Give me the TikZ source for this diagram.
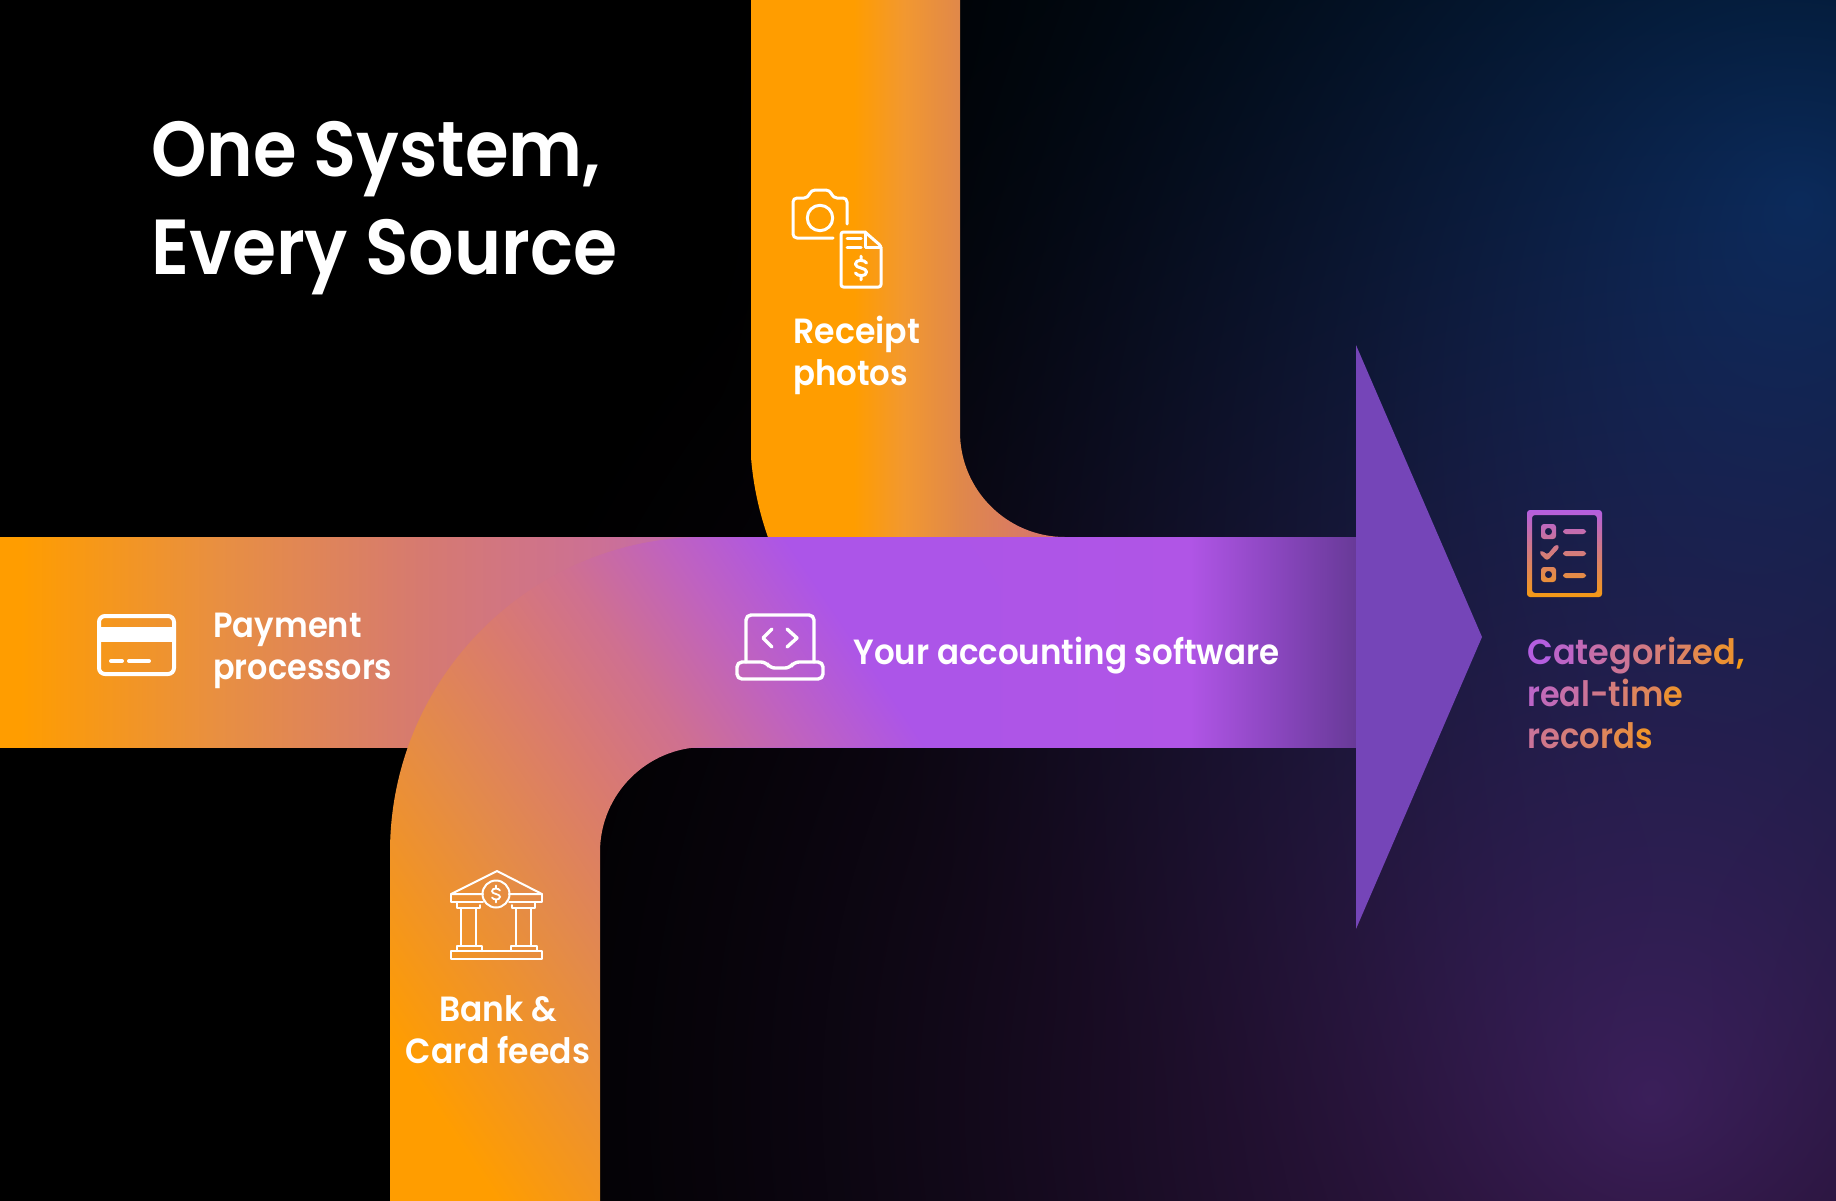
\documentclass[tikz,border=0pt]{standalone}
\usepackage{graphicx}
\usepackage{fontspec}
\setmainfont{Poppins}
\newfontfamily\psb{Poppins SemiBold}
\definecolor{orA}{HTML}{FF9D00}
\definecolor{orB}{HTML}{E88F42}
\definecolor{piA}{HTML}{D67A70}
\definecolor{piB}{HTML}{CC7095}
\definecolor{piC}{HTML}{C26AB0}
\definecolor{puA}{HTML}{AC55E8}
\definecolor{puB}{HTML}{B055E6}
\definecolor{puC}{HTML}{8444B8}
\definecolor{puD}{HTML}{683A98}
\definecolor{arrowc}{HTML}{7545B8}
\definecolor{arA}{HTML}{F29830}
\definecolor{arB}{HTML}{E0884A}
\definecolor{arC}{HTML}{D87868}
\definecolor{soA}{HTML}{E48B48}
\definecolor{soB}{HTML}{D97A70}
\definecolor{soC}{HTML}{CF7090}
\definecolor{soD}{HTML}{BF62C0}
\definecolor{gradA}{HTML}{B45EE0}
\definecolor{gradB}{HTML}{F59A14}
% horizontal band, stops in px/2
\pgfdeclarehorizontalshading{bandsh}{105pt}{color(0pt)=(orA); color(10pt)=(orA); color(110pt)=(orB); color(210pt)=(piA); color(300pt)=(piB); color(350pt)=(piC); color(445pt)=(puA); color(595pt)=(puB); color(645pt)=(puC); color(678pt)=(puD)}
\pgfdeclarehorizontalshading{topsh}{374pt}{color(0pt)=(orA); color(52pt)=(orA); color(77pt)=(arA); color(105pt)=(arB); color(140pt)=(arC); color(160pt)=(arC)}
\pgfdeclarehorizontalshading{botsh}{700pt}{color(0pt)=(orA); color(70pt)=(orA); color(169pt)=(soA); color(230pt)=(soB); color(275pt)=(soC); color(325pt)=(soD); color(375pt)=(puA); color(450pt)=(puA)}
\pgfdeclarefunctionalshading{bgsh}{\pgfpointorigin}{\pgfpoint{922pt}{604pt}}{}{
 2.0075 mul 1204 exch sub exch 2.0075 mul 4 sub exch
 2 copy 200 sub dup mul exch 1800 sub dup mul add sqrt 1100 div 1 exch sub dup 0 lt {pop 0} if dup sqrt mul
 3 1 roll
 1100 sub dup mul exch 1650 sub dup mul add sqrt 1250 div 1 exch sub dup 0 lt {pop 0} if dup sqrt mul
 2 copy 0.23 mul exch 0.012 mul add
 3 1 roll
 2 copy 0.11 mul exch 0.15 mul add
 3 1 roll
 0.33 mul exch 0.31 mul add
}
\newcommand{\sx}[2]{\scalebox{#1}[1]{#2}}
\newcommand{\gl}[2]{\textcolor{gradB!#1!gradA}{#2}}
\newcommand{\dollarmark}[3]{\draw[shift={(#1,#2)},scale=#3,iconln] (4,-3.5) .. controls (3,-6) and (-4,-6.5) .. (-4,-2.8) .. controls (-4,0.5) and (4,-0.5) .. (4,2.8) .. controls (4,6.5) and (-3,6) .. (-4,3.5) (0,-8.5) -- (0,-5.5) (0,5.5) -- (0,8.5);}
\tikzset{
 px/.style={x=.5pt,y=-.5pt},
 shfill/.style={inner sep=0pt,outer sep=0pt},
 titletxt/.style={anchor=base west,inner sep=0pt,text=white,font=\psb\fontsize{39}{39}\selectfont},
 labeltxt/.style={anchor=base west,inner sep=0pt,text=white,font=\psb\fontsize{17.5}{17.5}\selectfont},
 gradtxt/.style={anchor=base west,inner sep=0pt,font=\psb\fontsize{17.5}{17.5}\selectfont},
 iconln/.style={draw=white,line width=1.5pt,line cap=round,line join=round},
 iconthin/.style={draw=white,line width=1pt,line cap=round,line join=round},
}
\begin{document}
\begin{tikzpicture}[px]
\useasboundingbox (0,0) rectangle (1836,1200);
\begin{scope}
\clip (0,0) rectangle (1836,1200);
\fill[black] (-4,-4) rectangle (1840,1204);
\node[shfill,anchor=north west] (bg) at (-4,-4) {\pgfuseshading{bgsh}};
% top arm
\begin{scope}
\clip (750,-4) -- (750,432) .. controls (750,606) and (891,747) .. (1065,747) -- (1065,537) .. controls (1007,537) and (960,490) .. (960,432) -- (960,-4) -- cycle;
\node[shfill,anchor=north west] (topfill) at (750,-4) {\pgfuseshading{topsh}};
\end{scope}
% band
\node[shfill,anchor=north west] (bandfill) at (0,537) {\pgfuseshading{bandsh}};
% bottom arm
\begin{scope}
\clip (390,1204) -- (390,852) .. controls (390,678) and (531,537) .. (705,537) -- (1000,537) -- (1000,747) -- (705,747) .. controls (647,747) and (600,794) .. (600,852) -- (600,1204) -- cycle;
\node[shfill,rotate=34,anchor=west] (botfill) at (258,1097) {\pgfuseshading{botsh}};
\end{scope}
\end{scope}
% arrow head
\fill[arrowc] (1356,345) -- (1482,637) -- (1356,929) -- cycle;
% title
\node[titletxt] (t1) at (151,176) {\sx{.905}{One System,}};
\node[titletxt] (t2) at (151,274) {\sx{.915}{Every Source}};
% labels
\node[labeltxt] (r1) at (793,343) {\sx{.947}{Receipt}};
\node[labeltxt] (r2) at (793,385) {\sx{.925}{photos}};
\node[labeltxt] (p1) at (213,637) {\sx{.92}{Payment}};
\node[labeltxt] (p2) at (213,679) {\sx{.91}{processors}};
\node[labeltxt] (y1) at (853,664) {\sx{.928}{Your accounting software}};
\node[labeltxt,anchor=base] (b1) at (498,1021) {\sx{.94}{Bank \&}};
\node[labeltxt,anchor=base] (b2) at (498,1063) {\sx{.945}{Card feeds}};
\node[gradtxt] (g1) at (1527,664) {\sx{.958}{\gl{0}{C}\gl{12}{a}\gl{20}{t}\gl{27}{e}\gl{36}{g}\gl{45}{o}\gl{52}{r}\gl{56}{i}\gl{62}{z}\gl{72}{e}\gl{85}{d}\gl{100}{,}}};
\node[gradtxt] (g2) at (1527,706) {\sx{.91}{\gl{12}{r}\gl{20}{e}\gl{28}{a}\gl{35}{l}\gl{42}{-}\gl{50}{t}\gl{55}{i}\gl{65}{m}\gl{85}{e}}};
\node[gradtxt] (g3) at (1527,748) {\sx{.92}{\gl{35}{r}\gl{42}{e}\gl{50}{c}\gl{58}{o}\gl{65}{r}\gl{75}{d}\gl{88}{s}}};
% camera + receipt icon
\draw[iconln,rounded corners=2pt] (833,238) -- (793,238) -- (793,198) -- (808,198) -- (811,190) -- (830,190) -- (833,198) -- (847,198) -- (847,224);
\draw[iconln] (820,218) circle (12.7);
\draw[iconln,rounded corners=1.2pt] (865,232) -- (841,232) -- (841,287) -- (881,287) -- (881,246) -- (865,232);
\draw[iconln] (865,232) -- (865,247) -- (881,247) (847,238) -- (861,238) (847,247) -- (861,247);
\dollarmark{861}{268}{1.4}
% card icon
\draw[iconln,line width=2pt,rounded corners=3pt] (99,616) rectangle (174,674);
\fill[white] (99,627) rectangle (174,642);
\draw[iconln,line width=2pt] (111,661) -- (122,661) (129,661) -- (149,661);
% laptop icon
\draw[iconln,line width=1.7pt,rounded corners=2.5pt] (746,662) -- (746,615) -- (814,615) -- (814,662);
\draw[iconln,line width=1.7pt,rounded corners=2.5pt] (737,662) -- (766,662) -- (770,668) -- (790,668) -- (794,662) -- (823,662) -- (823,679) -- (737,679) -- cycle;
\draw[iconln,line width=1.7pt] (772,629) -- (763,638) -- (772,647) (787,629) -- (797,638) -- (787,647);
% bank icon
\draw[iconthin] (483,894) -- (451,894) -- (497,871) -- (542,894) -- (509,894);
\draw[iconthin] (483,902) -- (451,902) -- (451,894) (542,894) -- (542,902) -- (509,902);
\draw[iconthin] (496,894) circle (13.5);
\draw[iconthin] (457,902) -- (457,908) -- (480,908) -- (480,905) (535,902) -- (535,908) -- (512,908) -- (512,905);
\draw[iconthin] (461,908) -- (461,946) (476,908) -- (476,946) (516,908) -- (516,946) (531,908) -- (531,946);
\draw[iconthin] (457,951) -- (457,946) -- (482,946) -- (482,951) (511,951) -- (511,946) -- (537,946) -- (537,951);
\draw[iconthin] (451,951) rectangle (542,959);
\begin{scope}
\tikzset{iconln/.style={draw=white,line width=.9pt,line cap=round}}
\dollarmark{496}{894}{1}
\end{scope}
% checklist icon
\path[even odd rule,shade,top color=gradA,bottom color=gradB,rounded corners=1.5pt]
 (1527,510) rectangle (1602,597) (1532,515) rectangle (1597,593)
 (1541,524) rectangle (1556,539) (1545,528) rectangle (1552,535)
 (1541,567) rectangle (1556,582) (1545,571) rectangle (1552,578)
 (1563,529) rectangle (1586,534) (1563,551) rectangle (1586,556) (1563,573) rectangle (1586,578)
 (1539,553) -- (1542,550) -- (1547,555) -- (1556,544) -- (1560,547) -- (1547,561) -- cycle;
\end{tikzpicture}
\end{document}
